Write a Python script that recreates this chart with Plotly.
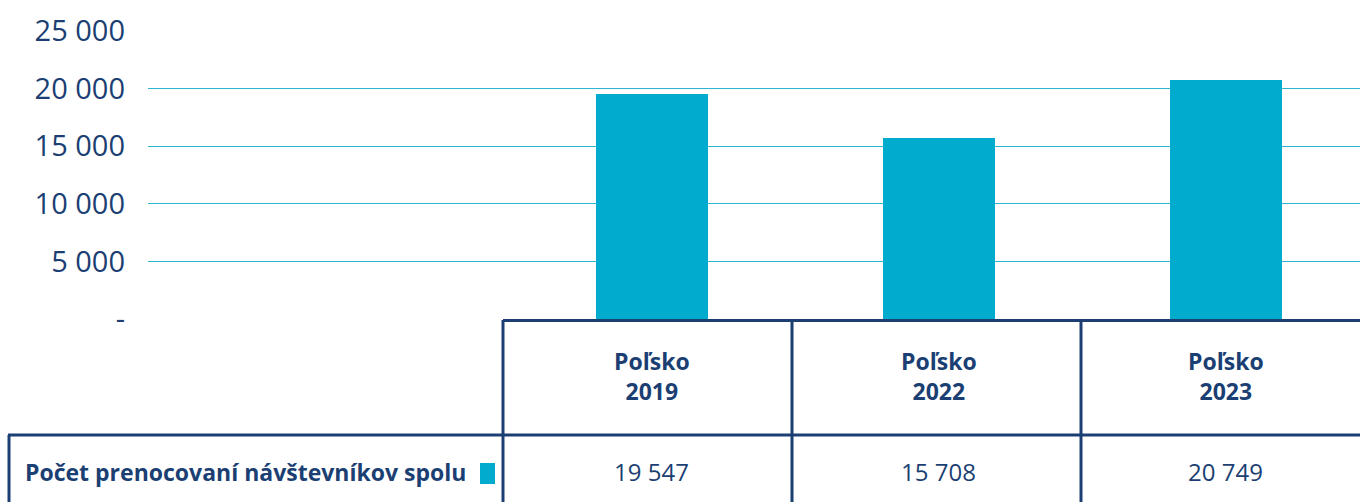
import plotly.graph_objects as go

# data
categories = ["Poľsko 2019", "Poľsko 2022", "Poľsko 2023"]
header_labels = ["Poľsko<br>2019", "Poľsko<br>2022", "Poľsko<br>2023"]
visitors = [19547, 15708, 20749]
value_labels = ["19 547", "15 708", "20 749"]
row_label = "Počet prenocovaní návštevníkov spolu"
y_ticks = [0, 5000, 10000, 15000, 20000, 25000]
y_tick_text = ["-", "5 000", "10 000", "15 000", "20 000", "25 000"]

NAVY = "#1b3f73"
CYAN = "#00abcd"
GRID = "#2bb5d2"

W, H = 1360, 502
L, R, T, B = 148, 0, 31, 183
PW, PH = W - L - R, H - T - B


def px(x):
    return (x - L) / PW


def py(y):
    return (H - B - y) / PH


fig = go.Figure(go.Bar(
    x=categories,
    y=visitors,
    width=0.39,
    marker=dict(color=CYAN, line=dict(width=0)),
    hoverinfo="x+y",
))

shapes = []
line = dict(color=NAVY, width=3)
# top border of header row
shapes.append(dict(type="line", xref="paper", yref="paper", x0=px(503), x1=1.01,
                   y0=py(320.5), y1=py(320.5), line=line))
# border between header and value row
shapes.append(dict(type="line", xref="paper", yref="paper", x0=px(8), x1=1.01,
                   y0=py(435), y1=py(435), line=line))
# column separators
for xb in [503, 792, 1081]:
    shapes.append(dict(type="line", xref="paper", yref="paper", x0=px(xb), x1=px(xb),
                       y0=py(320), y1=py(510), line=line))
# left edge of the row label cell
shapes.append(dict(type="line", xref="paper", yref="paper", x0=px(9), x1=px(9),
                   y0=py(435), y1=py(510), line=line))
# legend marker square
shapes.append(dict(type="rect", xref="paper", yref="paper", x0=px(480), x1=px(495),
                   y0=py(484), y1=py(463), fillcolor=CYAN, line=dict(width=0)))

annotations = []
for cat, head, val in zip(categories, header_labels, value_labels):
    annotations.append(dict(x=cat, xref="x", y=py(376), yref="paper", text=f"<b>{head}</b>",
                            showarrow=False, font=dict(size=23, color=NAVY, family="Open Sans"),
                            xanchor="center", yanchor="middle"))
    annotations.append(dict(x=cat, xref="x", y=py(471), yref="paper", text=val,
                            showarrow=False, font=dict(size=24, color=NAVY, family="Open Sans"),
                            xanchor="center", yanchor="middle"))
annotations.append(dict(x=px(23), xref="paper", y=py(472), yref="paper", text=f"<b>{row_label}</b>",
                        showarrow=False, font=dict(size=23, color=NAVY, family="Open Sans"),
                        xanchor="left", yanchor="middle"))

fig.update_layout(
    width=W, height=H,
    margin=dict(l=L, r=R, t=T, b=B),
    paper_bgcolor="white",
    plot_bgcolor="white",
    showlegend=False,
    bargap=0,
    shapes=shapes,
    annotations=annotations,
    xaxis=dict(
        type="category",
        range=[-1.756, 2.467],
        showticklabels=False,
        showgrid=False,
        zeroline=False,
        showline=False,
        fixedrange=True,
    ),
    yaxis=dict(
        range=[0, 25000],
        tickvals=y_ticks,
        ticktext=y_tick_text,
        tickfont=dict(size=29, color=NAVY, family="Open Sans"),
        ticklabelstandoff=22,
        showgrid=True,
        gridcolor=GRID,
        gridwidth=1,
        zeroline=False,
        showline=False,
        fixedrange=True,
    ),
)

# drop the default page margin so the figure sits at the window's top-left corner
fig.write_html("out.html", config={"displayModeBar": False},
               post_script="document.body.style.margin='0';")
